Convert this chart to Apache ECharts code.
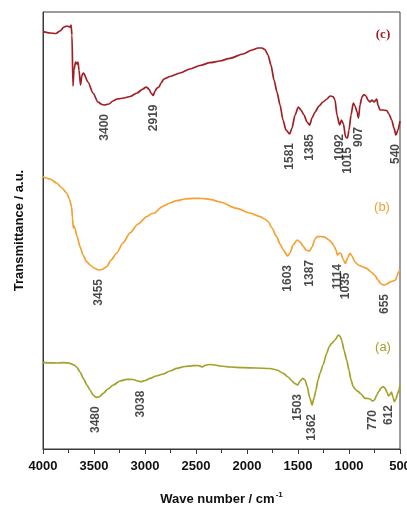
<!DOCTYPE html>
<html>
<head>
<meta charset="utf-8">
<script src="https://cdn.jsdelivr.net/npm/echarts@6/dist/echarts.min.js"></script>
<style>
  html, body { margin: 0; padding: 0; background: #fff; }
  #chart { width: 407px; height: 506px; }
</style>
</head>
<body>
<div id="chart"></div>
<script>
// FTIR spectra, wavenumber (cm-1) vs transmittance (arbitrary, stacked offsets)
const spectrumC = [
  [4000, 417.3], [3931, 416], [3873, 415.5], [3833, 418], [3794, 422], [3765, 423],
  [3735, 422], [3725, 424], [3716, 414], [3706, 363], [3696, 379], [3681, 387],
  [3667, 385], [3657, 387], [3647, 379], [3632, 364], [3618, 374], [3603, 376],
  [3559, 367], [3510, 356], [3461, 347], [3422, 344.5], [3400, 344], [3353, 345],
  [3314, 348], [3275, 350], [3206, 351], [3147, 352.5], [3078, 356], [3020, 360],
  [2990, 362], [2961, 360], [2941, 356], [2919, 353.5], [2902, 358], [2882, 361],
  [2863, 362], [2843, 366], [2814, 370], [2755, 372.5], [2657, 376], [2559, 380],
  [2461, 383.5], [2363, 386.3], [2265, 388], [2167, 390.7], [2039, 395], [1951, 399],
  [1892, 401], [1853, 401], [1824, 399.5], [1794, 394], [1765, 384], [1735, 369],
  [1706, 357], [1676, 344], [1647, 329], [1618, 319], [1581, 315], [1559, 321],
  [1529, 334], [1497, 342], [1471, 339], [1441, 334], [1412, 327], [1385, 324],
  [1363, 331], [1333, 337], [1294, 343], [1255, 347], [1216, 350], [1186, 353],
  [1157, 352.5], [1137, 349], [1118, 334], [1092, 324], [1074, 329], [1054, 325],
  [1034, 312], [1015, 311], [1000, 319], [980, 334], [958, 346], [941, 343],
  [921, 337], [907, 331], [892, 344], [873, 352], [853, 354.5], [833, 353],
  [814, 349], [794, 347], [775, 349], [755, 347], [728, 350], [716, 344],
  [696, 339], [667, 339], [630, 338.5], [608, 335], [581, 329], [559, 321],
  [540, 314], [520, 319], [500, 328]
];
const spectrumB = [
  [4000, 272.3], [3931, 270], [3866, 266], [3814, 261], [3768, 256], [3741, 250],
  [3719, 242], [3711, 231], [3703, 221], [3696, 223], [3686, 220], [3667, 213],
  [3637, 202.3], [3608, 194], [3572, 187.3], [3539, 184], [3500, 181], [3455, 179],
  [3422, 179.5], [3375, 182.3], [3333, 189], [3277, 196], [3216, 206], [3147, 216],
  [3069, 225], [2983, 232.3], [2931, 235.5], [2902, 236], [2882, 238], [2853, 241],
  [2821, 243], [2755, 246], [2689, 248.3], [2608, 250], [2526, 250.7], [2441, 250.5],
  [2363, 249.7], [2265, 247], [2101, 240.7], [1971, 236], [1873, 232.3], [1824, 230],
  [1791, 227], [1755, 221], [1709, 212.3], [1676, 205], [1644, 199], [1603, 193],
  [1578, 196], [1549, 204], [1507, 209], [1480, 207], [1451, 203], [1422, 199],
  [1387, 198], [1363, 202], [1333, 210], [1311, 212.3], [1275, 212.5], [1235, 211.7],
  [1196, 209], [1170, 206.3], [1147, 203], [1127, 199], [1114, 194], [1093, 196],
  [1078, 195.5], [1059, 190], [1035, 185.5], [1015, 191], [990, 195.7], [971, 193],
  [941, 187], [909, 184], [873, 182.5], [827, 180.7], [784, 177], [745, 173.5],
  [716, 169], [686, 165], [655, 164], [627, 165], [598, 167], [569, 168],
  [544, 169], [529, 173], [515, 177], [500, 179]
];
const spectrumA = [
  [4000, 86.3], [3931, 86.2], [3863, 86], [3804, 86.4], [3735, 85.7], [3696, 84],
  [3670, 82], [3637, 77], [3605, 70.7], [3569, 64], [3539, 59], [3510, 54],
  [3480, 51.7], [3451, 52], [3409, 55.7], [3363, 60], [3311, 64], [3245, 68],
  [3179, 69.7], [3118, 69.5], [3069, 68], [3038, 67.3], [3000, 68.5], [2951, 70.7],
  [2892, 73], [2821, 75], [2755, 78], [2689, 80.7], [2608, 82.5], [2526, 83.3],
  [2480, 83.5], [2441, 82.2], [2402, 84], [2363, 84.5], [2314, 84], [2265, 83],
  [2167, 82], [2036, 81.3], [1912, 81], [1775, 80.5], [1706, 79], [1644, 75.7],
  [1598, 72], [1562, 68.5], [1539, 66], [1503, 64], [1480, 68], [1454, 70.7],
  [1431, 69], [1409, 62.3], [1387, 52], [1362, 44], [1343, 51], [1324, 59],
  [1304, 69], [1284, 75.7], [1255, 84], [1218, 95.7], [1196, 102], [1170, 105.7],
  [1137, 109], [1105, 114], [1088, 113], [1072, 109], [1049, 99], [1023, 89],
  [1000, 79], [980, 69], [958, 62.3], [931, 59], [909, 57.3], [882, 55],
  [843, 50.7], [814, 50.5], [794, 50], [770, 48], [750, 49], [728, 54],
  [706, 58], [686, 61], [664, 62.3], [647, 61], [630, 57.3], [612, 53],
  [598, 54.5], [584, 57], [569, 52], [556, 47.3], [539, 50], [525, 55],
  [510, 59], [500, 64]
];

// Band positions annotated under each spectrum
const peaksC = [3400, 2919, 1581, 1385, 1092, 1015, 907, 540];
const peaksB = [3455, 1603, 1387, 1114, 1035, 655];
const peaksA = [3480, 3038, 1503, 1362, 770, 612];

const xTicks = [4000, 3500, 3000, 2500, 2000, 1500, 1000, 500];

const colorC = '#a01e24';
const colorB = '#f4a132';
const colorA = '#a4a12a';

// Transmittance of a spectrum at a given wavenumber (linear between samples)
function valueAt(spec, wn) {
  for (let i = 0; i < spec.length - 1; i++) {
    const [x0, y0] = spec[i];
    const [x1, y1] = spec[i + 1];
    if (wn <= x0 && wn >= x1) {
      const t = x0 === x1 ? 0 : (x0 - wn) / (x0 - x1);
      return y0 + t * (y1 - y0);
    }
  }
  return spec[spec.length - 1][1];
}

const LABEL_GAP = 9;

function lineSeries(name, data, color) {
  return {
    name, type: 'line', data, showSymbol: false, silent: true,
    smooth: 0.25, smoothMonotone: 'x',
    lineStyle: { color, width: 1.7 },
    z: 2
  };
}

// Vertical band labels hanging just below each spectrum
function peakSeries(name, spec, peaks) {
  return {
    name, type: 'scatter', silent: true, symbolSize: 0,
    data: peaks.map(p => [p, valueAt(spec, p) - LABEL_GAP]),
    label: {
      show: true, position: 'inside', rotate: 90,
      align: 'right', verticalAlign: 'middle',
      formatter: p => String(p.value[0]),
      fontFamily: 'Liberation Sans, Arial, sans-serif',
      fontSize: 12, fontWeight: 'bold', color: '#1a1a1a'
    },
    z: 3
  };
}

const chart = echarts.init(document.getElementById('chart'), null, { renderer: 'canvas' });

chart.setOption({
  animation: false,
  backgroundColor: '#ffffff',
  grid: {
    left: 43, right: 7, top: 12, bottom: 57,
    containLabel: false, outerBoundsMode: 'none',
    show: true, borderColor: '#3a3a3a', borderWidth: 1
  },
  xAxis: {
    type: 'value', inverse: true,
    min: 500, max: 4000, interval: 500,
    name: 'Wave number / cm{sup|-1}',
    nameLocation: 'middle', nameGap: 42,
    nameTextStyle: {
      fontFamily: 'Liberation Sans, Arial, sans-serif',
      fontSize: 13, fontWeight: 'bold', color: '#111',
      rich: {
        sup: { fontSize: 8, fontWeight: 'bold', color: '#111', verticalAlign: 'top', padding: [0, 0, 8, 1] }
      }
    },
    axisLine: { show: true, lineStyle: { color: '#3a3a3a', width: 1 } },
    axisTick: { show: true, inside: false, length: 5, lineStyle: { color: '#3a3a3a' } },
    minorTick: { show: true, splitNumber: 2, length: 4, lineStyle: { color: '#3a3a3a' } },
    splitLine: { show: false },
    axisLabel: {
      margin: 11,
      fontFamily: 'Liberation Sans, Arial, sans-serif',
      fontSize: 13, fontWeight: 'bold', color: '#111',
      formatter: v => (xTicks.indexOf(v) >= 0 ? String(v) : '')
    }
  },
  yAxis: {
    type: 'value', min: 0, max: 437,
    name: 'Transmittance / a.u.',
    nameLocation: 'middle', nameGap: 17,
    nameTextStyle: {
      fontFamily: 'Liberation Sans, Arial, sans-serif',
      fontSize: 13, fontWeight: 'bold', color: '#111'
    },
    axisLine: { show: true, lineStyle: { color: '#3a3a3a', width: 1 } },
    axisTick: { show: false },
    axisLabel: { show: false },
    splitLine: { show: false }
  },
  graphic: [
    { type: 'text', x: 383, y: 35, style: { text: '(c)', fill: colorC, font: 'bold 13px "Liberation Serif", "Times New Roman", serif', textAlign: 'center', textVerticalAlign: 'middle' } },
    { type: 'text', x: 382, y: 207, style: { text: '(b)', fill: colorB, font: '13px "Liberation Sans", Arial, sans-serif', textAlign: 'center', textVerticalAlign: 'middle' } },
    { type: 'text', x: 383, y: 347, style: { text: '(a)', fill: colorA, font: '13px "Liberation Sans", Arial, sans-serif', textAlign: 'center', textVerticalAlign: 'middle' } }
  ],
  series: [
    lineSeries('c', spectrumC, colorC),
    lineSeries('b', spectrumB, colorB),
    lineSeries('a', spectrumA, colorA),
    peakSeries('c-peaks', spectrumC, peaksC),
    peakSeries('b-peaks', spectrumB, peaksB),
    peakSeries('a-peaks', spectrumA, peaksA)
  ]
});
</script>
</body>
</html>
